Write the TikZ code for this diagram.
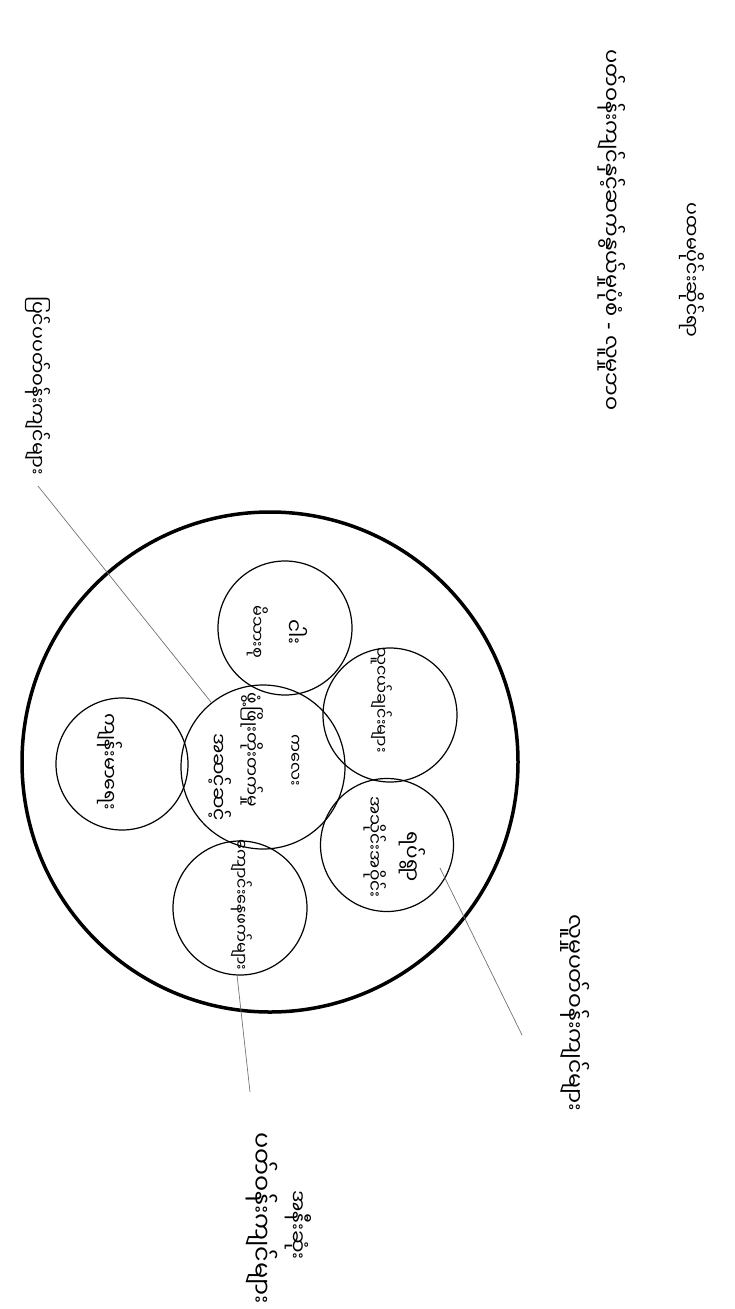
\documentclass[tikz,border=0pt]{standalone}
\usepackage{fontspec}
\usetikzlibrary{shapes.geometric}
\newfontfamily\mya[Script=Myanmar]{Noto Sans Myanmar UI}
\newfontfamily\dv{DejaVu Sans}
\begin{document}
\begin{tikzpicture}[x=1pt,y=-1pt,
  lbl/.style={font=\mya\fontsize{19}{21}\selectfont, rotate=-90, inner sep=0pt, align=center},
  small/.style={font=\mya\fontsize{16}{18}\selectfont, rotate=-90, inner sep=0pt, align=center},
  ring/.style={draw=black, line width=1.2pt, circle, inner sep=0pt},
  lead/.style={draw=black!55, line width=0.7pt}]
\useasboundingbox[fill=white] (0,0) rectangle (734,1309);
% titles
\node[lbl] (t1) at (692,270) {ပထမပိုင်းဆိုင်ရာ};
\node[lbl, font=\mya\fontsize{21}{23}\selectfont] (t2) at (612,230) {ပတ်ဝန်းကျင်နှင့်ဆက်နွယ်မှုပုံစံ {\dv -} လူမှုဘဝ};
% big circle
\node[draw=black, line width=3.5pt, ellipse, minimum width=496pt, minimum height=500pt, inner sep=0pt] (big) at (270,762) {};
% inner circles
\node[ring, minimum size=134pt] (up) at (285,628) {};
\node[ring, minimum size=134pt] (ru) at (390,715) {};
\node[ring, minimum size=133pt] (rl) at (387,845) {};
\node[ring, minimum size=164pt] (ce) at (263,767) {};
\node[ring, minimum size=132pt] (le) at (122,764) {};
\node[ring, minimum size=134pt] (bo) at (240,908) {};
% circle texts
\node[small, font=\mya\fontsize{20}{22}\selectfont] (up1) at (297,632) {ငါး};
\node[small] (up2) at (258,632) {မိသားစု};
\node[small] (ru1) at (382,700) {သူငယ်ချင်းများ};
\node[small, font=\mya\fontsize{20}{22}\selectfont] (rl1) at (412,857) {ရပ်ရွာ};
\node[small, font=\mya\fontsize{17}{19}\selectfont] (rl2) at (375,847) {အသိုင်းအဝိုင်း};
\node[small] (ce1) at (295,760) {ကလေး};
\node[small, font=\mya\fontsize{17}{19}\selectfont] (ce2) at (252,750) {ဖွံ့ဖြိုးတိုးတက်မှု};
\node[small, font=\mya\fontsize{19}{21}\selectfont] (ce3) at (220,777) {အဆင့်ဆင့်};
\node[small, font=\mya\fontsize{19}{21}\selectfont] (le1) at (110,762) {ကျန်းမာရေး};
\node[small] (bo1) at (242,905) {ကျောင်းနေဖက်များ};
% outer labels
\node[lbl] (ll) at (38,386) {ပြင်ပပတ်ဝန်းကျင်များ};
\node[lbl, font=\mya\fontsize{22}{24}\selectfont] (rlab) at (575,1013) {လူမှုပတ်ဝန်းကျင်များ};
\node[lbl, font=\mya\fontsize{20}{22}\selectfont] (bl1) at (298,1225) {အနီးဆုံး};
\node[lbl, font=\mya\fontsize{24}{26}\selectfont] (bl2) at (262,1218) {ပတ်ဝန်းကျင်များ};
% leader lines
\coordinate (a1) at (38,486);
\coordinate (b1) at (440,868);
\coordinate (b2) at (522,1035);
\coordinate (c1) at (237,975);
\coordinate (c2) at (250,1092);
\draw[lead] (a1) -- (ce);
\draw[lead] (b1) -- (b2);
\draw[lead] (c1) -- (c2);
\end{tikzpicture}
\end{document}
